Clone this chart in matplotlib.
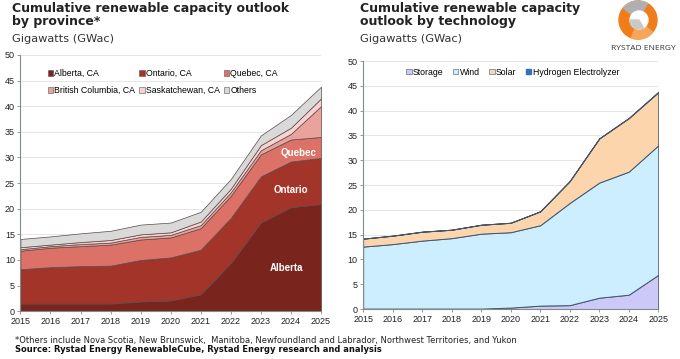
import matplotlib
matplotlib.use("Agg")
import matplotlib.pyplot as plt
from matplotlib.patches import Patch, Circle, Wedge

years = [2015, 2016, 2017, 2018, 2019, 2020, 2021, 2022, 2023, 2024, 2025]

# Left chart: by province (GWac)
alberta      = [1.5, 1.5, 1.5, 1.5, 1.9, 2.1, 3.3, 9.4, 17.3, 20.3, 20.9]
ontario      = [6.7, 7.1, 7.3, 7.4, 8.1, 8.4, 8.7, 8.8, 9.0, 8.9, 9.0]
quebec       = [3.6, 3.8, 3.9, 4.1, 4.0, 3.9, 4.2, 4.3, 4.3, 4.3, 4.1]
bc           = [0.3, 0.3, 0.4, 0.4, 0.5, 0.5, 0.6, 0.7, 0.8, 1.1, 6.0]
saskatchewan = [0.4, 0.3, 0.4, 0.5, 0.5, 0.5, 0.7, 0.7, 1.0, 1.2, 1.5]
others       = [1.6, 1.6, 1.7, 1.8, 1.9, 1.9, 1.9, 1.9, 1.9, 2.5, 2.3]
prov_labels = ["Alberta, CA", "Ontario, CA", "Quebec, CA",
               "British Columbia, CA", "Saskatchewan, CA", "Others"]
prov_colors = ["#7A241E", "#A3342A", "#DB7167", "#E9A29C", "#F6D3D0", "#D9D9D9"]

# Right chart: by technology (GWac)
storage  = [0.1, 0.1, 0.1, 0.1, 0.1, 0.3, 0.7, 0.8, 2.3, 2.9, 6.9]
wind     = [12.5, 13.0, 13.7, 14.2, 15.1, 15.2, 16.2, 20.6, 23.2, 24.8, 26.1]
solar    = [1.6, 1.7, 1.8, 1.7, 1.8, 1.9, 2.8, 4.4, 8.9, 10.8, 10.7]
hydrogen = [0.0, 0.0, 0.0, 0.0, 0.0, 0.0, 0.0, 0.0, 0.0, 0.0, 0.1]
tech_labels = ["Storage", "Wind", "Solar", "Hydrogen Electrolyzer"]
tech_colors = ["#CCC8F8", "#CCEEFF", "#FCD5AC", "#2E75B6"]

yticks = list(range(0, 51, 5))

fig = plt.figure(figsize=(6.8, 3.59), dpi=100)
fig.patch.set_facecolor("white")

tick_font = dict(family="Liberation Sans", size=6.5, color="#222222")


def style_axes(ax):
    ax.set_xlim(years[0], years[-1])
    ax.set_ylim(0, 50)
    ax.set_xticks(years)
    ax.set_yticks(yticks)
    ax.set_xticklabels([str(y) for y in years], **tick_font)
    ax.set_yticklabels([str(v) for v in yticks], **tick_font)
    ax.grid(axis="y", color="#E6E6E6", linewidth=0.7)
    ax.set_axisbelow(True)
    for s in ["top", "right"]:
        ax.spines[s].set_visible(False)
    ax.spines["left"].set_color("#7F8C8D")
    ax.spines["bottom"].set_color("#7F8C8D")
    ax.spines["left"].set_linewidth(0.8)
    ax.spines["bottom"].set_linewidth(0.8)
    ax.tick_params(axis="both", length=2.5, width=0.6, color="#7F8C8D", pad=1.5)


# Left axes
ax1 = fig.add_axes([0.030, 0.133, 0.442, 0.714])
ax1.stackplot(years, alberta, ontario, quebec, bc, saskatchewan, others,
              colors=prov_colors, edgecolor="#5A4A48", linewidth=0.5)
style_axes(ax1)
handles1 = [Patch(facecolor=c, edgecolor="#555555", linewidth=0.4) for c in prov_colors]
# reorder so the 3-column legend reads row by row
order = [0, 3, 1, 4, 2, 5]
ax1.legend([handles1[i] for i in order], [prov_labels[i] for i in order],
           ncol=3, loc="upper left",
           bbox_to_anchor=(0.065, 0.975), frameon=False,
           prop={"family": "Liberation Sans", "size": 6.3},
           handlelength=0.6, handleheight=0.6, handletextpad=0.15,
           columnspacing=0.45, labelspacing=0.9)
lbl = dict(color="white", fontweight="bold", fontsize=7, family="Liberation Sans",
           ha="center", va="center")
ax1.text(2023.85, 8.5, "Alberta", **lbl)
ax1.text(2024.0, 23.7, "Ontario", **lbl)
ax1.text(2024.25, 30.8, "Quebec", **lbl)

# Right axes
ax2 = fig.add_axes([0.534, 0.139, 0.434, 0.691])
ax2.stackplot(years, storage, wind, solar, hydrogen,
              colors=tech_colors, edgecolor="#44546A", linewidth=0.7)
style_axes(ax2)
handles2 = [Patch(facecolor=c, edgecolor="#44546A", linewidth=0.4) for c in tech_colors]
handles2[3] = Patch(facecolor=tech_colors[3], edgecolor=tech_colors[3])
ax2.legend(handles2, tech_labels, ncol=4, loc="upper left",
           bbox_to_anchor=(0.12, 1.005), frameon=False,
           prop={"family": "Liberation Sans", "size": 6.3},
           handlelength=0.6, handleheight=0.6, handletextpad=0.15,
           columnspacing=1.1)

# Titles
title_kw = dict(fontsize=9, fontweight="bold", color="#222222", family="DejaVu Sans",
                va="top", ha="left", linespacing=1.05)
sub_kw = dict(fontsize=8.2, color="#333333", family="DejaVu Sans", va="top", ha="left")
fig.text(12 / 680, 1 - 2 / 359, "Cumulative renewable capacity outlook\nby province*", **title_kw)
fig.text(12 / 680, 1 - 34 / 359, "Gigawatts (GWac)", **sub_kw)
fig.text(360 / 680, 1 - 2 / 359, "Cumulative renewable capacity\noutlook by technology", **title_kw)
fig.text(360 / 680, 1 - 34 / 359, "Gigawatts (GWac)", **sub_kw)

# Footnotes
fig.text(15 / 680, 1 - 341 / 359, "*Others include Nova Scotia, New Brunswick,  Manitoba, Newfoundland and Labrador, Northwest Territories, and Yukon",
         fontsize=6.0, family="DejaVu Sans", color="#222222", va="center", ha="left")
fig.text(15 / 680, 1 - 350 / 359, "Source: Rystad Energy RenewableCube, Rystad Energy research and analysis",
         fontsize=6.0, family="DejaVu Sans", fontweight="bold", color="#111111", va="center", ha="left")

# Logo
lax = fig.add_axes([618 / 680, 1 - 40 / 359, 40 / 680, 40 / 359])
lax.set_xlim(-1, 1)
lax.set_ylim(-1, 1)
lax.set_aspect("equal")
lax.axis("off")
lax.add_patch(Circle((0, 0), 0.95, color="#F07D1A"))
lax.add_patch(Wedge((0, 0), 0.95, 60, 140, color="#B0B0B0"))
lax.add_patch(Wedge((0, 0), 0.95, 250, 320, color="#F5A65B"))
lax.add_patch(Circle((0.05, 0.0), 0.45, color="#FFFFFF"))
lax.add_patch(Wedge((0.05, 0.0), 0.45, 180, 300, color="#C9C9C9"))
fig.text(643 / 680, 1 - 49 / 359, "RYSTAD ENERGY", fontsize=6, family="Open Sans",
         color="#333333", ha="center", va="center")

fig.savefig("out.png", dpi=100, facecolor="white")
